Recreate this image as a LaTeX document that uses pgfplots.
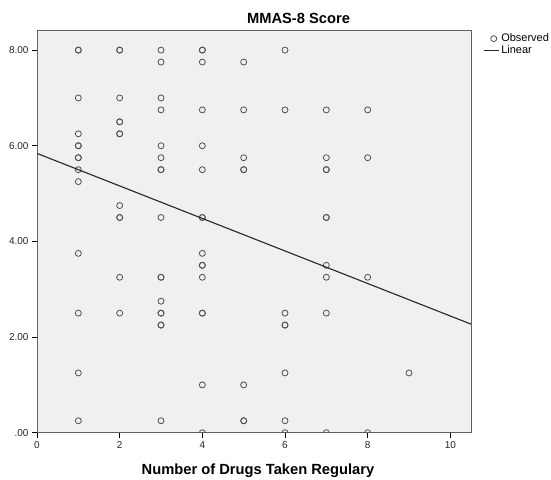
\documentclass[border=0pt]{standalone}
\usepackage{pgfplots}
\pgfplotsset{compat=1.18}
\usepackage{fontspec}
\setmainfont{Liberation Sans}
\definecolor{bgc}{HTML}{F0F0F0}
\definecolor{mk}{HTML}{505050}
\definecolor{frm}{HTML}{606060}
\begin{document}
\begin{tikzpicture}[x=1pt,y=1pt]
\useasboundingbox (0,0) rectangle (551,479);
\begin{axis}[
  at={(37pt,46.3pt)}, anchor=south west,
  scale only axis, width=434pt, height=402.2pt,
  xmin=0, xmax=10.5, ymin=0, ymax=8.41,
  axis background/.style={fill=bgc},
  axis line style={draw=frm, line width=0.9pt},
  tick pos=left, tick align=outside, major tick length=5pt,
  tick style={black, line width=0.9pt},
  xtick={0,2,4,6,8,10}, xticklabels={0,2,4,6,8,10},
  ytick={0,2,4,6,8}, yticklabels={.00,2.00,4.00,6.00,8.00},
  ticklabel style={font=\fontsize{10}{12}\selectfont, text=black!85},
  /pgf/number format/assume math mode=true,
  clip marker paths=true,
  legend style={at={(axis description cs:1.0276,0.997)}, anchor=north west,
    draw=none, fill=none, font=\fontsize{11}{11}\selectfont, inner sep=0pt,
    row sep=-2pt, cells={anchor=west},
    /tikz/every even column/.append style={column sep=5pt}},
  legend cell align=left,
]
\addplot[only marks, mark=o, mark size=3pt, mark options={draw=mk, line width=0.8pt},
  legend image code/.code={\path[draw=none,fill=none] (0pt,-3pt) rectangle (15pt,3pt); \draw[draw=mk, line width=0.8pt] (10pt,0pt) circle (3pt);}] coordinates {
(1,8)(1,8)(1,7)(1,6.25)(1,6)(1,6)(1,5.75)(1,5.75)(1,5.5)(1,5.25)(1,3.75)(1,2.5)(1,1.25)(1,0.25)
(2,8)(2,8)(2,7)(2,6.5)(2,6.5)(2,6.25)(2,6.25)(2,4.75)(2,4.5)(2,4.5)(2,3.25)(2,2.5)
(3,8)(3,7.75)(3,7)(3,6.75)(3,6)(3,5.75)(3,5.5)(3,5.5)(3,4.5)(3,3.25)(3,3.25)(3,2.75)(3,2.5)(3,2.5)(3,2.25)(3,2.25)(3,0.25)
(4,8)(4,8)(4,7.75)(4,6.75)(4,6)(4,5.5)(4,4.5)(4,4.5)(4,3.75)(4,3.5)(4,3.5)(4,3.25)(4,2.5)(4,2.5)(4,1)(4,0)
(5,7.75)(5,6.75)(5,5.75)(5,5.5)(5,5.5)(5,1)(5,0.25)(5,0.25)
(6,8)(6,6.75)(6,2.5)(6,2.25)(6,2.25)(6,1.25)(6,0.25)(6,0)
(7,6.75)(7,5.75)(7,5.5)(7,5.5)(7,4.5)(7,4.5)(7,3.5)(7,3.25)(7,2.5)(7,0)
(8,6.75)(8,5.75)(8,3.25)(8,0)
(9,1.25)
};
\addlegendentry{Observed}
\addplot[no marks, draw=black!85, line width=1.1pt,
  legend image code/.code={\draw[draw=black!85, line width=1.1pt] (0pt,0pt) -- (15pt,0pt);}]
  coordinates {(0,5.84) (10.5,2.27)};
\addlegendentry{Linear}
\end{axis}
\node[font=\fontsize{14.7}{17}\selectfont\bfseries, anchor=base] at (298.5,455) {MMAS-8 Score};
\node[font=\fontsize{14.7}{17}\selectfont\bfseries, anchor=base] at (258,5) {Number of Drugs Taken Regulary};
\end{tikzpicture}
\end{document}
